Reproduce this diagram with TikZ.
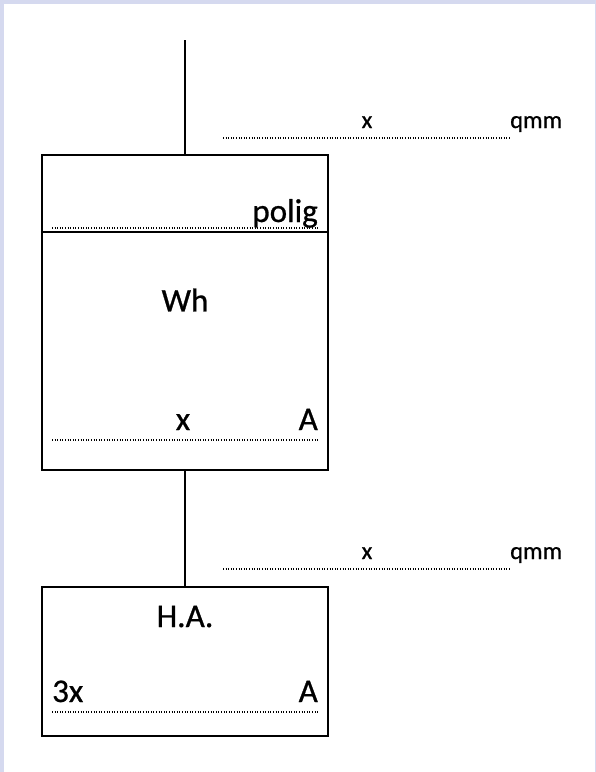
\documentclass[tikz,border=0pt]{standalone}
\usepackage{fontspec}
\setmainfont[FakeBold=0.8,BoldFont=Carlito]{Carlito}
\definecolor{frame}{HTML}{D5D9EF}
\begin{document}
\begin{tikzpicture}[x=1pt,y=-1pt,
  boxline/.style={draw=black,line width=2.5pt},
  wire/.style={draw=black,line width=2pt},
  dotline/.style={draw=black,line width=1.6pt,dash pattern=on 1pt off 1.6pt},
  big/.style={font=\fontsize{33}{36}\selectfont\bfseries,inner sep=0pt},
  small/.style={font=\fontsize{24.5}{28}\selectfont\bfseries,inner sep=0pt}]
\useasboundingbox (0,0) rectangle (596,772);
\fill[frame] (0,0) rectangle (596,772);
\fill[white] (4,4) rectangle (595,772);
% boxes
\node[boxline,minimum width=286pt,minimum height=315pt,inner sep=0pt] (b1) at (185,312.5) {};
\node[boxline,minimum width=286pt,minimum height=149pt,inner sep=0pt] (b2) at (185,661.5) {};
\coordinate (top) at (185,40);
\draw[wire] (top) -- (b1.north);
\draw[wire] (b1.south) -- (b2.north);
\draw[boxline] ([yshift=-78pt]b1.north west) coordinate (dl) -- ([yshift=-78pt]b1.north east) coordinate (dr);
% top annotation
\coordinate (a1l) at (223,138); \coordinate (a1r) at (510,138);
\draw[dotline] (a1l) -- (a1r);
\node[small,anchor=base] (ax1) at (367,128) {x};
\node[small,anchor=base west] (aq1) at (510,128) {qmm};
% polig
\coordinate (p1l) at (52,228); \coordinate (p1r) at (318,228);
\draw[dotline] (p1l) -- (p1r);
\node[big,anchor=base east] (polig) at (318,222) {polig};
\node[big] (wh) at (185,300) {Wh};
\coordinate (q1l) at (52,440); \coordinate (q1r) at (318,440);
\draw[dotline] (q1l) -- (q1r);
\node[big,anchor=base] (x1) at (183,430) {x};
\node[big,anchor=base east] (A1) at (318,430) {A};
% second annotation
\coordinate (a2l) at (223,569); \coordinate (a2r) at (510,569);
\draw[dotline] (a2l) -- (a2r);
\node[small,anchor=base] (ax2) at (367,559) {x};
\node[small,anchor=base west] (aq2) at (510,559) {qmm};
% H.A.
\node[big,anchor=base] (ha) at (185,627) {H.A.};
\coordinate (r1l) at (52,712); \coordinate (r1r) at (318,712);
\draw[dotline] (r1l) -- (r1r);
\node[big,anchor=base west] (x3) at (52,702) {3x};
\node[big,anchor=base east] (A2) at (318,702) {A};
\end{tikzpicture}
\end{document}
